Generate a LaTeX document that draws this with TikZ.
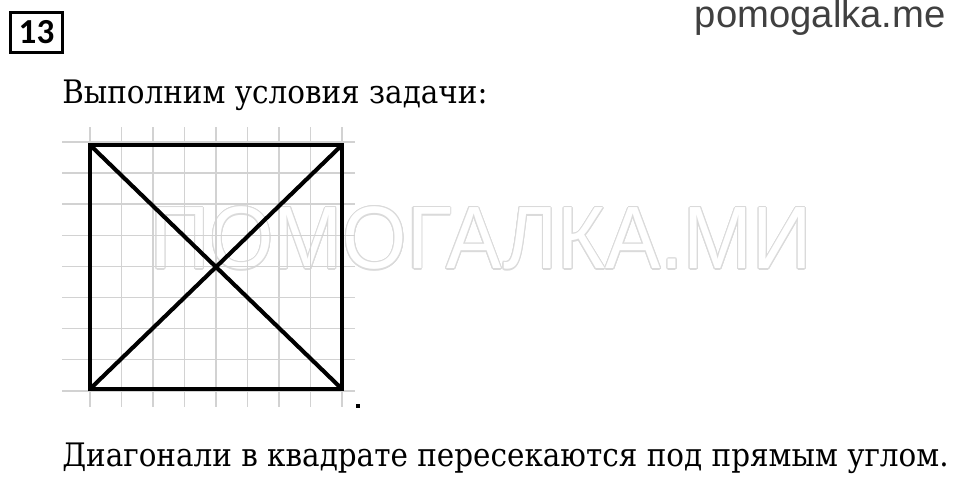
\documentclass[tikz,border=0pt]{standalone}
\usepackage{fontspec}
\usepackage{xcolor}
\usepackage[copies]{contour}
\setmainfont{DejaVu Serif}
\newfontfamily\sitefont{Liberation Sans}
\newfontfamily\numfont{Carlito}
\definecolor{gridgray}{HTML}{D2D2D2}
\definecolor{markgray}{HTML}{DADADA}
\definecolor{sitegray}{HTML}{404040}
\contourlength{0.8pt}
\tikzstyle{grid line}=[
    draw = gridgray,
    line width = 1.1pt
]
\tikzstyle{body text}=[
    anchor = base west,
    inner sep = 0pt,
    xscale = 0.91,
    font = \fontsize{23}{28}\selectfont
]

\begin{document}
\begin{tikzpicture}[x = 0.025cm, y = -0.025cm, main/.style = {draw, line width = 3.5pt}]
        \useasboundingbox (0,0) rectangle (960,480);

        % watermark
        \node[font = \sitefont\fontsize{63}{63}\selectfont, xscale = 0.933, inner sep = 0pt] (wm) at (481,239) {\contour{markgray}{\textcolor{white}{ПОМОГАЛКА.МИ}}};

        % grid
        \foreach \i in {0,...,8} {
            \draw[grid line] (90+31.5*\i,127) -- (90+31.5*\i,407);
            \draw[grid line] (62,142+31.1*\i) -- (355,142+31.1*\i);
        }

        \node[draw, line width = 1.8pt, minimum width = 37pt, minimum height = 28.5pt, inner sep = 0pt, font = \numfont\bfseries\fontsize{25}{25}\selectfont] (num) at (36.5,32.5) {13};
        \node[anchor = base east, inner sep = 0pt, text = sitegray, font = \sitefont\fontsize{27.2}{28}\selectfont] (site) at (946,27.5) {pomogalka.me};

        \node[body text] (top) at (62,103) {Выполним условия задачи:};
        \node[body text] (bottom) at (62,466) {Диагонали в квадрате пересекаются под прямым углом.};

        \coordinate (1) at (90,145);
        \coordinate (2) at (342,145);
        \coordinate (3) at (342,389);
        \coordinate (4) at (90,389);

        \draw[main] (1) -- (2) -- (3) -- (4) -- cycle;
        \draw[-, line width = 2.9pt] (1) -- (3);
        \draw[-, line width = 2.9pt] (4) -- (2);
        \node[fill, inner sep = 0pt, minimum size = 2.4pt] (dot) at (358,406) {};

    \end{tikzpicture}
\end{document}
